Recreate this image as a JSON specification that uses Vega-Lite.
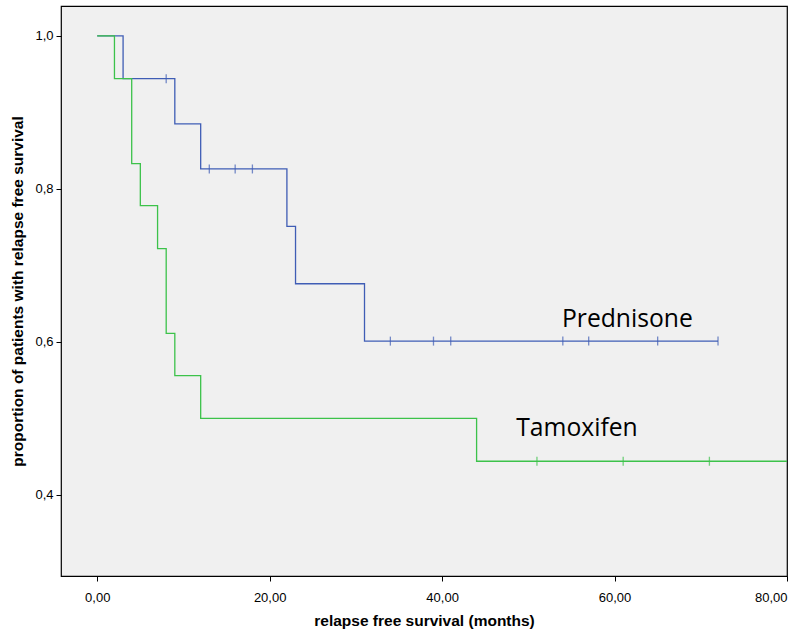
{
  "$schema": "https://vega.github.io/schema/vega-lite/v6.json",
  "autosize": "none",
  "width": 726,
  "height": 570,
  "padding": {"left": 61, "top": 6, "right": 20, "bottom": 61},
  "background": "white",
  "config": {
    "locale": {"number": {"decimal": ",", "thousands": ".", "grouping": [3], "currency": ["", "€"]}},
    "view": {"stroke": "#000000", "strokeWidth": 1.2, "fill": "#f0f0f0"},
    "axis": {
      "domain": false, "grid": false, "tickColor": "#000", "tickSize": 5,
      "labelFont": "Liberation Sans Narrow, Arial Narrow, Liberation Sans", "labelFontSize": 13, "labelColor": "#000",
      "titleFont": "Liberation Sans", "titleFontSize": 15.5, "titleFontWeight": "bold", "titleColor": "#000"
    }
  },
  "datasets": {
    "curves": [
      {"group": "Prednisone", "t": 0, "s": 1.0},
      {"group": "Prednisone", "t": 3, "s": 0.944},
      {"group": "Prednisone", "t": 9, "s": 0.885},
      {"group": "Prednisone", "t": 12, "s": 0.826},
      {"group": "Prednisone", "t": 22, "s": 0.751},
      {"group": "Prednisone", "t": 23, "s": 0.676},
      {"group": "Prednisone", "t": 31, "s": 0.601},
      {"group": "Prednisone", "t": 72, "s": 0.601},
      {"group": "Tamoxifen", "t": 0, "s": 1.0},
      {"group": "Tamoxifen", "t": 2, "s": 0.944},
      {"group": "Tamoxifen", "t": 4, "s": 0.833},
      {"group": "Tamoxifen", "t": 5, "s": 0.778},
      {"group": "Tamoxifen", "t": 7, "s": 0.722},
      {"group": "Tamoxifen", "t": 8, "s": 0.611},
      {"group": "Tamoxifen", "t": 9, "s": 0.556},
      {"group": "Tamoxifen", "t": 12, "s": 0.5},
      {"group": "Tamoxifen", "t": 44, "s": 0.444},
      {"group": "Tamoxifen", "t": 80, "s": 0.444}
    ],
    "censored": [
      {"group": "Prednisone", "t": 8, "s": 0.944},
      {"group": "Prednisone", "t": 13, "s": 0.826},
      {"group": "Prednisone", "t": 16, "s": 0.826},
      {"group": "Prednisone", "t": 18, "s": 0.826},
      {"group": "Prednisone", "t": 34, "s": 0.601},
      {"group": "Prednisone", "t": 39, "s": 0.601},
      {"group": "Prednisone", "t": 41, "s": 0.601},
      {"group": "Prednisone", "t": 54, "s": 0.601},
      {"group": "Prednisone", "t": 57, "s": 0.601},
      {"group": "Prednisone", "t": 65, "s": 0.601},
      {"group": "Prednisone", "t": 72, "s": 0.601},
      {"group": "Tamoxifen", "t": 51, "s": 0.444},
      {"group": "Tamoxifen", "t": 61, "s": 0.444},
      {"group": "Tamoxifen", "t": 71, "s": 0.444}
    ],
    "labels": [
      {"label": "Prednisone", "t": 53.9, "s": 0.62},
      {"label": "Tamoxifen", "t": 48.6, "s": 0.477}
    ]
  },
  "encoding": {
    "x": {"type": "quantitative"},
    "y": {"type": "quantitative"}
  },
  "layer": [
    {
      "data": {"name": "curves"},
      "mark": {"type": "line", "interpolate": "step-after", "strokeWidth": 1.3, "clip": true},
      "encoding": {
        "x": {"field": "t", "type": "quantitative",
          "scale": {"domain": [-4.2, 80], "nice": false, "zero": false},
          "axis": {"values": [0, 20, 40, 60, 80], "format": ".2f", "title": "relapse free survival (months)", "labelPadding": 10, "titlePadding": 9}},
        "y": {"field": "s", "type": "quantitative",
          "scale": {"domain": [0.294, 1.039], "nice": false, "zero": false},
          "axis": {"values": [0.4, 0.6, 0.8, 1.0], "format": ".1f", "title": "proportion of patients with relapse free survival", "labelPadding": 3, "titlePadding": 9}},
        "color": {"field": "group", "type": "nominal",
          "scale": {"domain": ["Prednisone", "Tamoxifen"], "range": ["#3f5db5", "#3cc24a"]}, "legend": null}
      }
    },
    {
      "data": {"name": "censored"},
      "mark": {"type": "point", "shape": "M0,-1V1", "size": 81, "strokeWidth": 1.3, "filled": false},
      "encoding": {
        "x": {"field": "t", "type": "quantitative"},
        "y": {"field": "s", "type": "quantitative"},
        "color": {"field": "group", "type": "nominal", "legend": null}
      }
    },
    {
      "data": {"name": "labels"},
      "mark": {"type": "text", "align": "left", "baseline": "alphabetic", "font": "Open Sans", "fontSize": 24.7, "color": "#000"},
      "encoding": {
        "x": {"field": "t", "type": "quantitative"},
        "y": {"field": "s", "type": "quantitative"},
        "text": {"field": "label"}
      }
    }
  ]
}
